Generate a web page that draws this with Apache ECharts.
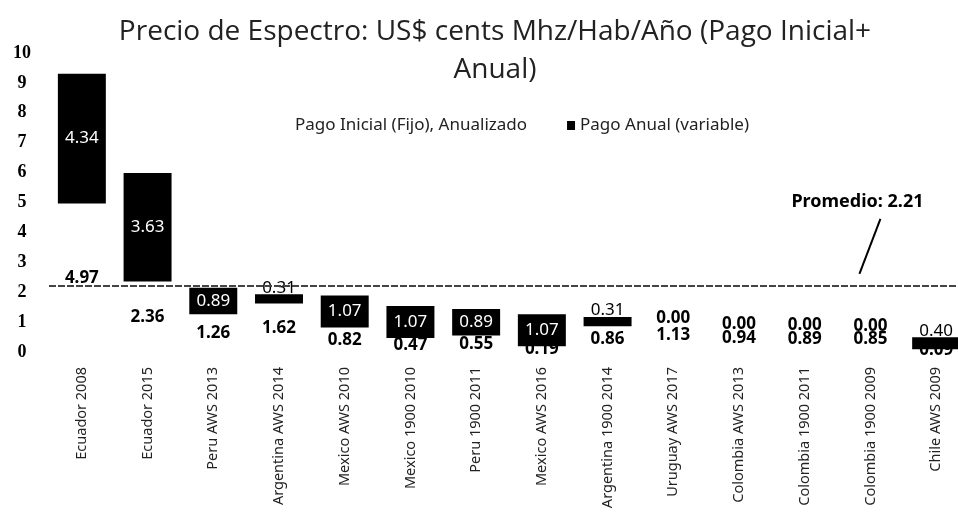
<!DOCTYPE html>
<html>
<head>
<meta charset="utf-8">
<script src="https://cdn.jsdelivr.net/npm/echarts@6/dist/echarts.min.js"></script>
<style>
  html, body { margin: 0; padding: 0; background: #fff; }
  #chart { width: 958px; height: 517px; }
</style>
</head>
<body>
<div id="chart"></div>
<script>
const categories = [
  'Ecuador 2008', 'Ecuador 2015', 'Peru AWS 2013', 'Argentina AWS 2014',
  'Mexico AWS 2010', 'Mexico 1900 2010', 'Peru 1900 2011', 'Mexico AWS 2016',
  'Argentina 1900 2014', 'Uruguay AWS 2017', 'Colombia AWS 2013',
  'Colombia 1900 2011', 'Colombia 1900 2009', 'Chile AWS 2009'
]
const pagoInicial = [4.97, 2.36, 1.26, 1.62, 0.82, 0.47, 0.55, 0.19, 0.86, 1.13, 0.94, 0.89, 0.85, 0.09]
const pagoAnual = [4.34, 3.63, 0.89, 0.31, 1.07, 1.07, 0.89, 1.07, 0.31, 0.00, 0.00, 0.00, 0.00, 0.40]
const promedio = 2.21
const yMin = 0
const yMax = 10
const yStep = 1

const seriesNames = ['Pago Inicial (Fijo), Anualizado', 'Pago Anual (variable)']

const chart = echarts.init(document.getElementById('chart'))

// small bars get their label in black, above or on the bar
const anualData = pagoAnual.map(v => {
  if (v === 0) {
    return { value: v, label: { color: '#000', position: 'inside', fontWeight: 'bold' } }
  }
  if (v < 0.5) {
    return { value: v, label: { color: '#000', position: 'top', distance: -2 } }
  }
  return v
})

const option = {
  animation: false,
  backgroundColor: '#fff',
  title: {
    text: 'Precio de Espectro: US$ cents Mhz/Hab/Año (Pago Inicial+\nAnual)',
    left: 490,
    top: 8,
    textAlign: 'center',
    textStyle: {
      fontFamily: 'Open Sans',
      fontSize: 28,
      fontWeight: 'normal',
      color: '#222',
      lineHeight: 38
    }
  },
  legend: {
    left: 277,
    top: 112,
    itemWidth: 8,
    itemHeight: 9,
    itemGap: 40,
    icon: 'rect',
    textStyle: { fontFamily: 'Noto Sans', fontSize: 17, color: '#222' },
    data: seriesNames
  },
  grid: {
    left: 49,
    right: -11,
    top: 53,
    bottom: 165,
    outerBoundsMode: 'none'
  },
  xAxis: {
    type: 'category',
    data: categories,
    axisLine: { show: false },
    axisTick: { show: false },
    axisLabel: {
      rotate: 90,
      interval: 0,
      margin: 15,
      fontFamily: 'Noto Sans',
      fontSize: 14.5,
      color: '#222'
    }
  },
  yAxis: {
    type: 'value',
    min: yMin,
    max: yMax,
    interval: yStep,
    splitLine: { show: false },
    axisLine: { show: false },
    axisTick: { show: false },
    axisLabel: {
      margin: 27,
      align: 'center',
      fontFamily: 'Liberation Serif',
      fontWeight: 'bold',
      fontSize: 18,
      color: '#000'
    }
  },
  series: [
    {
      name: seriesNames[0],
      type: 'bar',
      stack: 'total',
      barCategoryGap: '27%',
      data: pagoInicial,
      itemStyle: { color: '#fff' },
      label: {
        show: true,
        position: 'inside',
        formatter: p => p.value.toFixed(2),
        fontFamily: 'Noto Sans',
        fontWeight: 'bold',
        fontSize: 17,
        color: '#000'
      },
      markLine: {
        silent: true,
        symbol: 'none',
        label: { show: false },
        lineStyle: { color: '#444', width: 2, type: [7, 2] },
        data: [{ yAxis: promedio }]
      }
    },
    {
      name: seriesNames[1],
      type: 'bar',
      stack: 'total',
      data: anualData,
      itemStyle: { color: '#000' },
      label: {
        show: true,
        position: 'inside',
        formatter: p => p.value.toFixed(2),
        fontFamily: 'Noto Sans',
        fontSize: 17,
        color: '#fff'
      }
    }
  ]
}

chart.setOption(option)

// annotation for the average line, anchored to the axis scale
const anchor = chart.convertToPixel({ gridIndex: 0 }, [12, promedio])
const slashBottom = [anchor[0] - 11, anchor[1] - 12]
chart.setOption({
  graphic: [
    {
      type: 'line',
      shape: {
        x1: slashBottom[0], y1: slashBottom[1],
        x2: slashBottom[0] + 21, y2: slashBottom[1] - 55
      },
      style: { stroke: '#000', lineWidth: 2 }
    },
    {
      type: 'text',
      x: slashBottom[0] - 2,
      y: slashBottom[1] - 72,
      style: {
        text: 'Promedio: 2.21',
        fontFamily: 'Noto Sans',
        fontWeight: 'bold',
        fontSize: 18,
        fill: '#000',
        align: 'center',
        verticalAlign: 'middle'
      }
    }
  ]
})
</script>
</body>
</html>
